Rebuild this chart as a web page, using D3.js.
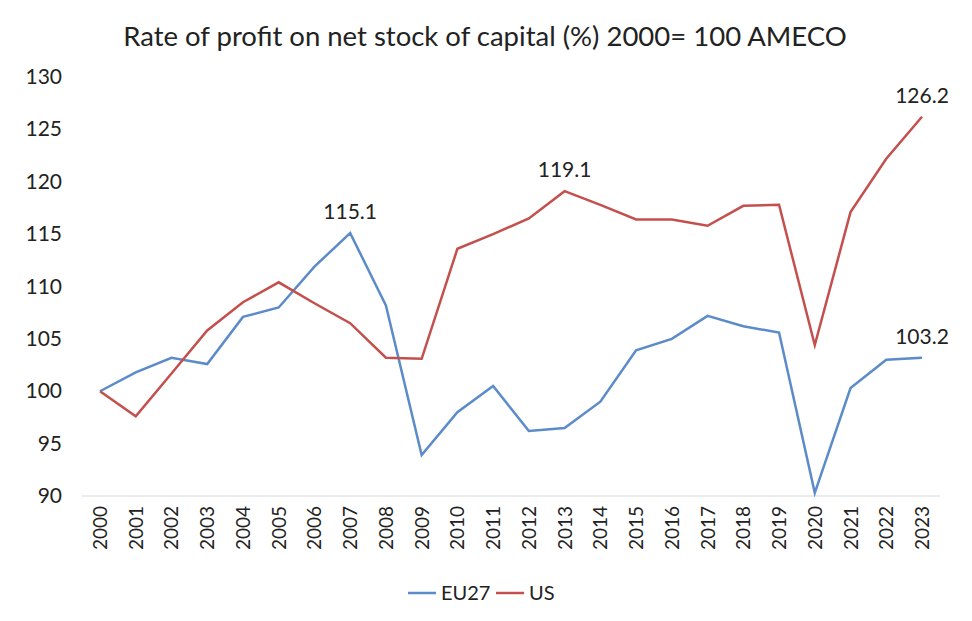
<!DOCTYPE html><html><head><meta charset="utf-8"><script src="https://cdn.jsdelivr.net/npm/d3@7"></script>
<style>body{margin:0;background:#fff}text{font-family:Lato,"Open Sans",sans-serif;fill:#222}</style></head><body><svg id="c" width="972" height="621"></svg><script>
const years=d3.range(2000,2024).map(String);
const eu27=[100,101.8,103.2,102.6,107.1,108,111.9,115.1,108.2,93.9,98,100.5,96.2,96.5,99,103.9,105,107.2,106.2,105.6,90.3,100.3,103,103.2];
const us=[100,97.6,101.7,105.8,108.5,110.4,108.4,106.5,103.2,103.1,113.6,115,116.5,119.1,117.8,116.4,116.4,115.8,117.7,117.8,104.4,117.1,122.2,126.2];
const yTicks=[90,95,100,105,110,115,120,125,130];
const svg=d3.select("#c");
const x=d3.scalePoint().domain(years).range([100,922]);
const y=d3.scaleLinear().domain([90,130]).range([496,77]);
svg.append("text").attr("x",485).attr("y",46).attr("text-anchor","middle").style("font-size","27.5px").text("Rate of profit on net stock of capital (%) 2000= 100 AMECO");
svg.append("line").attr("x1",82).attr("x2",940).attr("y1",496).attr("y2",496).attr("stroke","#d9d9d9");
yTicks.forEach(t=>svg.append("text").attr("x",62).attr("y",y(t)+7).attr("text-anchor","end").style("font-size","21px").text(t));
years.forEach(yr=>svg.append("text").attr("transform",`translate(${x(yr)+7},506) rotate(-90)`).attr("text-anchor","end").style("font-size","19px").text(yr));
const line=d3.line().x((d,i)=>x(years[i])).y(d=>y(d));
[[eu27,"#5b8bc9"],[us,"#c4504d"]].forEach(([s,c])=>svg.append("path").attr("d",line(s)).attr("fill","none").attr("stroke",c).attr("stroke-width",2.5));
[[eu27,7],[us,13],[us,23],[eu27,23]].forEach(([s,i])=>svg.append("text").attr("x",x(years[i])).attr("y",y(s[i])-14).attr("text-anchor","middle").style("font-size","21px").text(s[i].toFixed(1)));
const lg=[["EU27","#5b8bc9",408],["US","#c4504d",496]];
lg.forEach(([n,c,lx])=>{svg.append("line").attr("x1",lx).attr("x2",lx+28).attr("y1",593).attr("y2",593).attr("stroke",c).attr("stroke-width",2.5);svg.append("text").attr("x",lx+33).attr("y",600).style("font-size","20px").text(n);});
</script></body></html>
